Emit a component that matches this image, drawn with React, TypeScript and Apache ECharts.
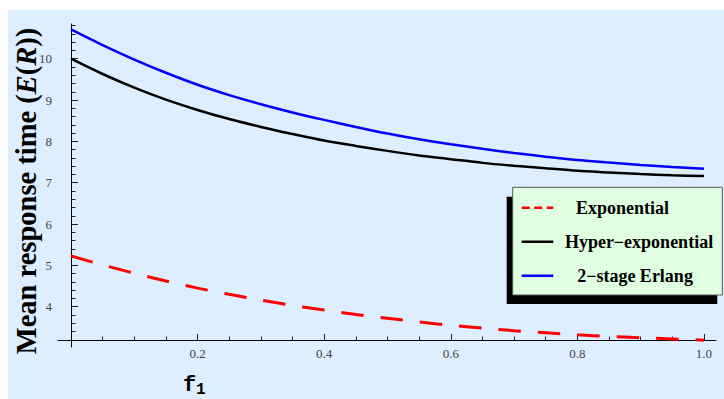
import React, { useEffect, useRef } from "react";
import * as echarts from "echarts";

// f1 sample points and mean response times for the three service distributions
const fValues = [0, 0.05, 0.1, 0.15, 0.2, 0.25, 0.3, 0.35, 0.4, 0.45, 0.5, 0.55, 0.6, 0.65, 0.7, 0.75, 0.8, 0.85, 0.9, 0.95, 1.0];
const exponential = [5.23, 5.01, 4.81, 4.62, 4.45, 4.3, 4.16, 4.03, 3.92, 3.81, 3.72, 3.63, 3.55, 3.48, 3.42, 3.37, 3.32, 3.28, 3.25, 3.22, 3.19];
const hyperExponential = [10.0, 9.63, 9.3, 9.01, 8.76, 8.54, 8.35, 8.18, 8.02, 7.89, 7.77, 7.66, 7.57, 7.48, 7.41, 7.35, 7.29, 7.25, 7.21, 7.18, 7.16];
const erlang2 = [10.71, 10.33, 9.98, 9.66, 9.37, 9.12, 8.9, 8.7, 8.52, 8.35, 8.19, 8.05, 7.93, 7.82, 7.72, 7.63, 7.55, 7.49, 7.43, 7.38, 7.34];

const seriesNames = ["Exponential", "Hyper\u2212exponential", "2\u2212stage Erlang"];
const seriesColors = ["#ff0000", "#000000", "#0000ff"];

// axis ticks
const xTickLabels = [0.2, 0.4, 0.6, 0.8, 1.0];
const xMinorTicks = [0.05, 0.1, 0.15, 0.25, 0.3, 0.35, 0.45, 0.5, 0.55, 0.65, 0.7, 0.75, 0.85, 0.9, 0.95];
const yTickLabels = [4, 5, 6, 7, 8, 9, 10];
const yMinorTicks = [
  3.4, 3.6, 3.8, 4.2, 4.4, 4.6, 4.8, 5.2, 5.4, 5.6, 5.8, 6.2, 6.4, 6.6, 6.8,
  7.2, 7.4, 7.6, 7.8, 8.2, 8.4, 8.6, 8.8, 9.2, 9.4, 9.6, 9.8, 10.2, 10.4, 10.6, 10.8,
];

// axis extents (axes run a little past the plotted range)
const X_MIN = -0.0205;
const X_MAX = 1.019;
const Y_MIN = 3.025;
const Y_MAX = 10.84;

const SERIF = "'Liberation Serif', 'Times New Roman', serif";
const MONO = "'Liberation Mono', 'Courier New', monospace";

const toPairs = (ys: number[]) => fValues.map((f, i) => [f, ys[i]]);

export default function App() {
  const ref = useRef<HTMLDivElement>(null);

  useEffect(() => {
    if (!ref.current) return;
    const chart = echarts.init(ref.current, null, { renderer: "svg" });

    const tickLabelStyle = {
      fontFamily: SERIF,
      fontSize: 13,
      color: "#444",
    };

    const legendRows = [207.7, 241.7, 275.7];
    const legendTextX = [622.5, 639, 635];

    const legendGraphics: any[] = [
      {
        type: "rect",
        shape: { x: 506.7, y: 196.7, width: 210.6, height: 107.3 },
        style: { fill: "#000" },
        z: 10,
      },
      {
        type: "rect",
        shape: { x: 512.7, y: 187.3, width: 209.6, height: 107.7 },
        style: { fill: "#e0ffe0", stroke: "#555", lineWidth: 1 },
        z: 11,
      },
    ];
    seriesNames.forEach((name, i) => {
      legendGraphics.push({
        type: "line",
        shape: { x1: 521.7, y1: legendRows[i], x2: 553.3, y2: legendRows[i] },
        style: {
          stroke: seriesColors[i],
          lineWidth: 2.4,
          lineDash: i === 0 ? [8, 4.5] : null,
        },
        z: 12,
      });
      legendGraphics.push({
        type: "text",
        x: legendTextX[i],
        y: legendRows[i],
        style: {
          text: name,
          fontFamily: SERIF,
          fontWeight: "bold",
          fontSize: 18,
          fill: "#000",
          align: "center",
          verticalAlign: "middle",
        },
        z: 12,
      });
    });

    const lineSeries = (idx: number, values: number[], lineStyle: any) => ({
      name: seriesNames[idx],
      type: "line",
      data: toPairs(values),
      smooth: 0.3,
      showSymbol: false,
      symbol: "none",
      lineStyle: { color: seriesColors[idx], ...lineStyle },
      z: 5,
    });

    const option: any = {
      animation: false,
      backgroundColor: "transparent",
      grid: {
        left: 58,
        right: 8,
        top: 24,
        bottom: 52,
        outerBoundsMode: "none",
      },
      xAxis: [
        {
          type: "value",
          min: X_MIN,
          max: X_MAX,
          position: "bottom",
          offset: -7,
          axisLine: { show: true, onZero: false, lineStyle: { color: "#000", width: 1 } },
          axisTick: {
            show: true,
            inside: true,
            length: 6,
            customValues: xTickLabels,
            lineStyle: { color: "#222", width: 1 },
          },
          axisLabel: {
            ...tickLabelStyle,
            customValues: xTickLabels,
            margin: 7,
            formatter: (v: number) => v.toFixed(1),
          },
          splitLine: { show: false },
        },
        {
          type: "value",
          min: X_MIN,
          max: X_MAX,
          position: "bottom",
          offset: -7,
          axisLine: { show: false, onZero: false },
          axisTick: {
            show: true,
            inside: true,
            length: 3.5,
            customValues: xMinorTicks,
            lineStyle: { color: "#222", width: 1 },
          },
          axisLabel: { show: false },
          splitLine: { show: false },
        },
      ],
      yAxis: [
        {
          type: "value",
          min: Y_MIN,
          max: Y_MAX,
          position: "left",
          axisLine: { show: true, onZero: true, lineStyle: { color: "#000", width: 1 } },
          axisTick: {
            show: true,
            inside: true,
            length: 7,
            customValues: yTickLabels,
            lineStyle: { color: "#222", width: 1 },
          },
          axisLabel: {
            ...tickLabelStyle,
            customValues: yTickLabels,
            margin: 6,
          },
          splitLine: { show: false },
        },
        {
          type: "value",
          min: Y_MIN,
          max: Y_MAX,
          position: "left",
          axisLine: { show: false, onZero: true },
          axisTick: {
            show: true,
            inside: true,
            length: 4.5,
            customValues: yMinorTicks,
            lineStyle: { color: "#222", width: 1 },
          },
          axisLabel: { show: false },
          splitLine: { show: false },
        },
      ],
      series: [
        lineSeries(0, exponential, { width: 3, type: [22.5, 17] }),
        lineSeries(1, hyperExponential, { width: 2.5 }),
        lineSeries(2, erlang2, { width: 2.5 }),
      ],
      graphic: [
        {
          type: "text",
          x: 26,
          y: 191,
          rotation: Math.PI / 2,
          style: {
            text: "{n|Mean response time (}{i|E}{n|(}{i|R}{n|))}",
            align: "center",
            verticalAlign: "middle",
            rich: {
              n: { fontFamily: SERIF, fontWeight: "bold", fontSize: 28.5, fill: "#000" },
              i: { fontFamily: SERIF, fontWeight: "bold", fontStyle: "italic", fontSize: 28.5, fill: "#000" },
            },
          },
        },
        {
          type: "text",
          x: 183,
          y: 385,
          style: {
            text: "f",
            fontFamily: MONO,
            fontWeight: "bold",
            fontSize: 22,
            fill: "#000",
            align: "left",
            verticalAlign: "middle",
          },
        },
        {
          type: "text",
          x: 196,
          y: 389.5,
          style: {
            text: "1",
            fontFamily: MONO,
            fontWeight: "bold",
            fontSize: 16,
            fill: "#000",
            align: "left",
            verticalAlign: "middle",
          },
        },
        ...legendGraphics,
      ],
    };

    chart.setOption(option);
    return () => chart.dispose();
  }, []);

  return (
    <div style={{ position: "absolute", left: 0, top: 0, width: 724, height: 399, background: "#fff" }}>
      <div
        style={{ position: "absolute", left: 8, top: 10, width: 716, height: 389, background: "#ddeeff" }}
      />
      <div ref={ref} style={{ position: "absolute", left: 0, top: 0, width: 724, height: 399 }} />
    </div>
  );
}
